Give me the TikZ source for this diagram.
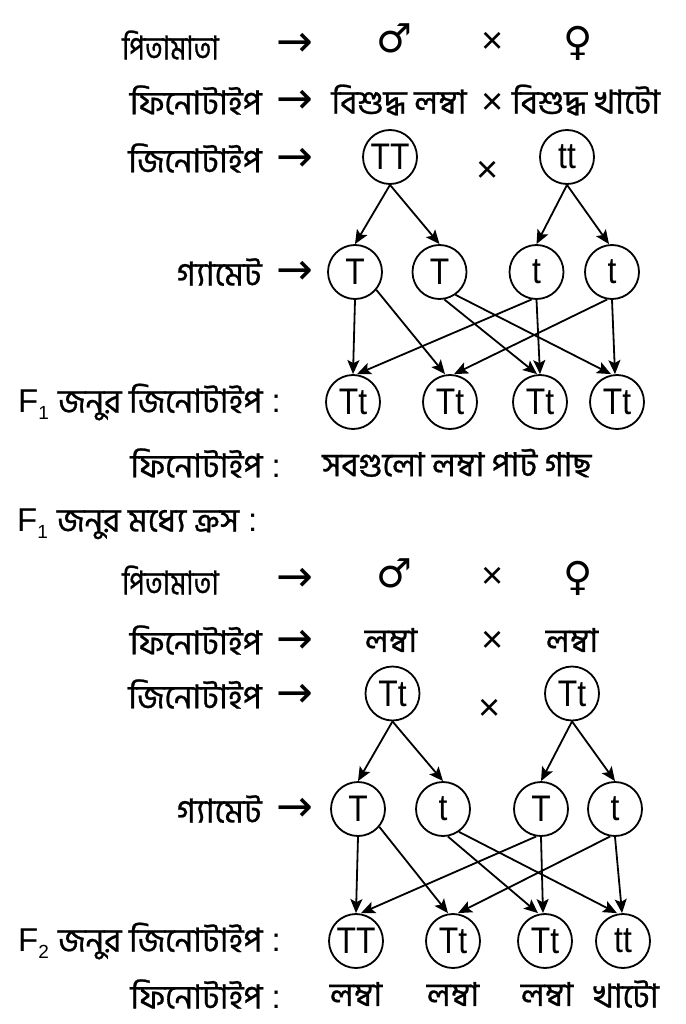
\documentclass[tikz,border=0pt]{standalone}
\usepackage{fontspec}
\setmainfont{Liberation Sans}
\newfontfamily\bn[Script=Bengali,FakeBold=0.8]{Hind Siliguri}
\newfontfamily\dv{DejaVu Sans}
\usetikzlibrary{arrows.meta}
\newcommand{\Fsub}[1]{F\raisebox{-7pt}{\fontsize{19}{20}\selectfont #1}}
\newcommand{\nar}[1]{\scalebox{0.86}[1]{#1}}
\begin{document}
\begin{tikzpicture}[x=1pt,y=-1pt,
  bt/.style={font=\bn\fontsize{33}{40}\selectfont, inner sep=0pt},
  lt/.style={font=\fontsize{38}{44}\selectfont, inner sep=0pt},
  sym/.style={font=\dv\fontsize{40}{48}\selectfont, inner sep=0pt},
  rar/.style={font=\dv\fontsize{44}{50}\selectfont, inner sep=0pt},
  gc/.style={circle, draw, line width=1.8pt, minimum size=54pt, inner sep=0pt, font=\fontsize{37}{40}\selectfont},
  ar/.style={-{Stealth[length=14pt,width=12pt,inset=3pt]}, line width=1.8pt}
]
\useasboundingbox (0,0) rectangle (685,1024);
% ---------- section 1 ----------
\node[bt, anchor=west] (p1) at (122,45) {\scalebox{0.82}[1]{পিতামাতা}};
\node[rar] (a1) at (295,45) {→};
\node[sym] (m1) at (394,38) {♂};
\node[lt] (x1) at (493,43) {×};
\node[sym] (f1) at (578,43) {♀};

\node[bt, anchor=east] (ph1) at (262,100) {ফিনোটাইপ};
\node[rar] (a2) at (295,102) {→};
\node[bt] (pa) at (399,100) {বিশুদ্ধ লম্বা};
\node[lt] (x2) at (493,104) {×};
\node[bt] (pb) at (586,100) {বিশুদ্ধ খাটো};

\node[bt, anchor=east] (ge1) at (262,158) {জিনোটাইপ};
\node[rar] (a3) at (295,160) {→};
\node[gc] (P1) at (390,157) {\nar{TT}};
\node[lt] (x3) at (488,172) {×};
\node[gc] (P2) at (567,157) {\nar{tt}};

\node[bt, anchor=east] (gm1) at (262,272) {গ্যামেট};
\node[rar] (a4) at (295,273) {→};
\node[gc] (G1) at (355,272) {\nar{T}};
\node[gc] (G2) at (439.5,272) {\nar{T}};
\node[gc] (G3) at (536.5,272) {\nar{t}};
\node[gc] (G4) at (612,272) {\nar{t}};

\node[anchor=east, inner sep=0pt, font=\fontsize{33}{38}\selectfont] (fl1) at (281,402) {\Fsub{1} {\bn\fontsize{33}{40}\selectfont জনুর জিনোটাইপ} :};
\node[gc] (C1) at (353,402) {\nar{Tt}};
\node[gc] (C2) at (450,402) {\nar{Tt}};
\node[gc] (C3) at (540,402) {\nar{Tt}};
\node[gc] (C4) at (617,402) {\nar{Tt}};

\node[anchor=east, inner sep=0pt, font=\fontsize{33}{38}\selectfont] (ph2) at (281,463) {{\bn\fontsize{33}{40}\selectfont ফিনোটাইপ} :};
\node[bt, anchor=west] (all) at (322,463) {সবগুলো লম্বা পাট গাছ};

\node[anchor=west, inner sep=0pt, font=\fontsize{33}{38}\selectfont] (cr) at (17,524) {\Fsub{1} {\bn\fontsize{33}{40}\selectfont জনুর মধ্যে ক্রস} :};

\draw[ar] (P1.south) -- (G1.north);
\draw[ar] (P1.south) -- (G2.north);
\draw[ar] (P2.south) -- (G3.north);
\draw[ar] (P2.south) -- ([xshift=-3pt]G4.north);

\draw[ar] (G1.south) -- (C1.north);
\draw[ar] (G1.-40) -- ([xshift=-5pt]C2.north);
\draw[ar] (G2.-80) -- ([xshift=-3pt]C3.north);
\draw[ar] (G2.-55) -- ([xshift=-6pt]C4.north);
\draw[ar] (G3.-100) -- ([xshift=4pt]C1.north);
\draw[ar] (G3.south) -- (C3.north);
\draw[ar] (G4.-100) -- ([xshift=4pt]C2.north);
\draw[ar] (G4.south) -- ([xshift=-2pt]C4.north);

% ---------- section 2 ----------
\node[bt, anchor=west] (p2) at (122,580) {\scalebox{0.82}[1]{পিতামাতা}};
\node[rar] (b1) at (295,580) {→};
\node[sym] (m2) at (394,573) {♂};
\node[lt] (x4) at (493,578) {×};
\node[sym] (f2) at (578,578) {♀};

\node[bt, anchor=east] (ph3) at (262,640) {ফিনোটাইপ};
\node[rar] (b2) at (295,642) {→};
\node[bt] (la) at (391,640) {লম্বা};
\node[lt] (x5) at (493,642) {×};
\node[bt] (lb) at (572,640) {লম্বা};

\node[bt, anchor=east] (ge2) at (262,694) {জিনোটাইপ};
\node[rar] (b3) at (295,696) {→};
\node[gc] (Q1) at (392.5,693.5) {\nar{Tt}};
\node[lt] (x6) at (490,710) {×};
\node[gc] (Q2) at (572,693.5) {\nar{Tt}};

\node[bt, anchor=east] (gm2) at (262,809) {গ্যামেট};
\node[rar] (b4) at (295,810) {→};
\node[gc] (H1) at (358,809) {\nar{T}};
\node[gc] (H2) at (443,809) {\nar{t}};
\node[gc] (H3) at (541,809) {\nar{T}};
\node[gc] (H4) at (615,809) {\nar{t}};

\node[anchor=east, inner sep=0pt, font=\fontsize{33}{38}\selectfont] (fl2) at (281,941) {\Fsub{2} {\bn\fontsize{33}{40}\selectfont জনুর জিনোটাইপ} :};
\node[gc] (D1) at (356,941) {\nar{TT}};
\node[gc] (D2) at (453,941) {\nar{Tt}};
\node[gc] (D3) at (545,941) {\nar{Tt}};
\node[gc] (D4) at (623,941) {\nar{tt}};

\node[anchor=east, inner sep=0pt, font=\fontsize{33}{38}\selectfont] (ph4) at (281,994) {{\bn\fontsize{33}{40}\selectfont ফিনোটাইপ} :};
\node[bt] (r1) at (356,994) {লম্বা};
\node[bt] (r2) at (453,994) {লম্বা};
\node[bt] (r3) at (547,994) {লম্বা};
\node[bt] (r4) at (626,994) {খাটো};

\draw[ar] (Q1.south) -- (H1.north);
\draw[ar] (Q1.south) -- (H2.north);
\draw[ar] (Q2.south) -- (H3.north);
\draw[ar] (Q2.south) -- (H4.north);

\draw[ar] (H1.south) -- (D1.north);
\draw[ar] (H1.-40) -- ([xshift=-5pt]D2.north);
\draw[ar] (H2.-80) -- ([xshift=-7pt]D3.north);
\draw[ar] (H2.-55) -- ([xshift=-6pt]D4.north);
\draw[ar] (H3.-100) -- ([xshift=5pt]D1.north);
\draw[ar] (H3.south) -- ([xshift=-2pt]D3.north);
\draw[ar] (H4.-100) -- ([xshift=5pt]D2.north);
\draw[ar] (H4.south) -- ([xshift=-1pt]D4.north);
\end{tikzpicture}
\end{document}
